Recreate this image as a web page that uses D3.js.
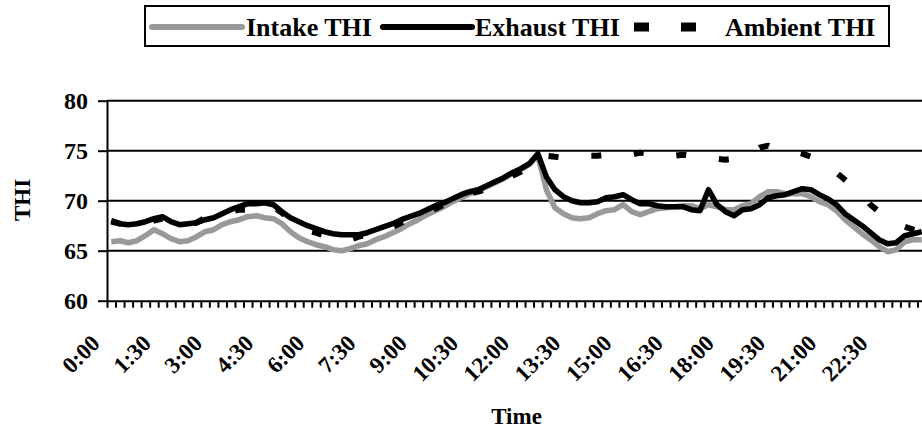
<!DOCTYPE html>
<html>
<head>
<meta charset="utf-8">
<script src="https://cdn.jsdelivr.net/npm/d3@7"></script>
<style>
  body { margin: 0; background: #fff; }
  text { font-family: "Liberation Serif", "Times New Roman", serif; font-weight: bold; fill: #000; }
</style>
</head>
<body>
<div id="chart"></div>
<script>
// datos: cada 15 minutos, de 0:00 a 23:45
const times = d3.range(96).map(i => `${Math.floor(i / 4)}:${String((i % 4) * 15).padStart(2, "0")}`)
const tickLabels = ["0:00", "1:30", "3:00", "4:30", "6:00", "7:30", "9:00", "10:30", "12:00",
                    "13:30", "15:00", "16:30", "18:00", "19:30", "21:00", "22:30"]
const yTicks = [60, 65, 70, 75, 80]

const intake = [65.9, 66.0, 65.8, 66.0, 66.5, 67.1, 66.7, 66.2, 65.9, 66.0, 66.4, 66.9,
                67.1, 67.6, 67.9, 68.1, 68.4, 68.5, 68.3, 68.2, 67.7, 66.9, 66.3, 65.9,
                65.6, 65.4, 65.1, 65.0, 65.2, 65.5, 65.7, 66.1, 66.4, 66.8, 67.2, 67.7,
                68.1, 68.6, 69.0, 69.4, 69.9, 70.3, 70.7, 71.0, 71.4, 71.8, 72.2, 72.7,
                73.1, 73.6, 74.5, 71.1, 69.3, 68.7, 68.3, 68.2, 68.3, 68.7, 69.0, 69.1,
                69.6, 68.9, 68.6, 68.9, 69.2, 69.3, 69.4, 69.5, 69.5, 69.2, 69.6, 69.4,
                69.1, 69.1, 69.5, 69.7, 70.4, 70.9, 70.9, 70.7, 70.7, 70.7, 70.4, 69.9,
                69.6, 69.0, 68.1, 67.4, 66.7, 66.1, 65.4, 64.9, 65.1, 65.9, 66.1, 66.1]

const exhaust = [68.0, 67.7, 67.6, 67.7, 67.9, 68.2, 68.4, 67.9, 67.6, 67.7, 67.8, 68.1,
                 68.3, 68.7, 69.1, 69.4, 69.7, 69.7, 69.8, 69.6, 68.9, 68.3, 67.9, 67.5,
                 67.2, 66.9, 66.7, 66.6, 66.6, 66.6, 66.8, 67.1, 67.4, 67.7, 68.1, 68.4,
                 68.7, 69.1, 69.5, 69.8, 70.2, 70.6, 70.9, 71.1, 71.5, 71.9, 72.3, 72.8,
                 73.2, 73.7, 74.7, 72.4, 71.1, 70.4, 70.0, 69.8, 69.8, 69.9, 70.3, 70.4,
                 70.6, 70.1, 69.7, 69.7, 69.5, 69.4, 69.4, 69.4, 69.1, 69.0, 71.1, 69.6,
                 68.9, 68.5, 69.1, 69.2, 69.6, 70.3, 70.5, 70.6, 70.9, 71.2, 71.1, 70.6,
                 70.2, 69.6, 68.7, 68.1, 67.5, 66.8, 66.1, 65.7, 65.8, 66.5, 66.7, 66.9]

const ambient = [67.9, 67.7, 67.5, 67.6, 67.8, 68.0, 68.2, 67.8, 67.5, 67.6, 67.8, 68.3,
                 68.4, 68.6, 68.9, 69.1, 69.1, 69.2, 69.5, 69.4, 68.8, 68.0, 67.3, 67.0,
                 66.8, 66.5, 66.2, 65.9, 66.1, 66.4, 66.6, 66.9, 67.0, 67.4, 67.8, 68.2,
                 68.5, 68.8, 69.2, 69.6, 70.0, 70.4, 70.7, 70.9, 71.2, 71.6, 72.1, 72.5,
                 72.9, 73.5, 74.4, 74.5, 74.4, 74.3, 74.3, 74.4, 74.5, 74.5, 74.6, 74.5,
                 74.4, 74.6, 74.8, 74.7, 74.5, 74.4, 74.5, 74.6, 74.5, 74.3, 74.3, 74.2,
                 74.1, 74.2, 74.4, 74.8, 75.3, 75.5, 75.1, 74.9, 74.9, 74.7, 74.4, 74.0,
                 73.4, 72.8, 72.1, 71.4, 70.7, 69.6, 68.9, 68.3, 67.8, 67.4, 67.1, 66.9]

const series = [
    { name: "Intake THI", values: intake, color: "#999999", dash: null },
    { name: "Exhaust THI", values: exhaust, color: "#000000", dash: null },
    { name: "Ambient THI", values: ambient, color: "#000000", dash: "10,33" }
]

// constantes y SVG
const width = 922
const height = 431
const margin = { top: 100.7, left: 107, bottom: 130.3 }
const plotWidth = 819   // se corta por la derecha, como en el original

const svg = d3.select("#chart").append("svg").attr("width", width).attr("height", height)

// escalas
const x = d3.scaleBand().domain(times).range([margin.left, margin.left + plotWidth])
const xIdx = d3.scaleLinear().domain([0, times.length]).range([margin.left, margin.left + plotWidth])
const y = d3.scaleLinear().domain([60, 80]).range([height - margin.bottom, margin.top])

// rejilla
svg.append("g").selectAll("line").data(yTicks.slice(1)).enter().append("line")
    .attr("x1", margin.left).attr("x2", margin.left + plotWidth)
    .attr("y1", d => y(d)).attr("y2", d => y(d))
    .attr("stroke", "#000").attr("stroke-width", 2)

// ejes
const yAxisGroup = svg.append("g").attr("transform", `translate(${margin.left},0)`)
    .call(d3.axisLeft(y).tickValues(yTicks).tickSize(9).tickSizeOuter(0).tickPadding(10))
yAxisGroup.selectAll("line, path").attr("stroke", "#000").attr("stroke-width", 2)
yAxisGroup.selectAll("text").style("font-size", "24px").attr("dy", "0.34em")

const xAxisGroup = svg.append("g").attr("transform", `translate(0,${y(60)})`)
    .call(d3.axisBottom(xIdx).tickValues(d3.range(0, times.length + 1)).tickSize(7).tickSizeOuter(0).tickFormat(""))
xAxisGroup.selectAll("line, path").attr("stroke", "#000").attr("stroke-width", 2)

const xLabelGroup = svg.append("g").attr("transform", `translate(0,${y(60)})`)
    .call(d3.axisBottom(x).tickValues(tickLabels).tickSize(0))
xLabelGroup.select(".domain").remove()
xLabelGroup.selectAll("text")
    .style("font-size", "23px")
    .attr("text-anchor", "end")
    .attr("x", 0).attr("y", 0).attr("dy", 0)
    .attr("transform", "translate(-10,44) rotate(-45)")

// titulos de ejes
svg.append("text").attr("x", margin.left + plotWidth / 2).attr("y", 424)
    .attr("text-anchor", "middle").style("font-size", "23px").text("Time")
svg.append("text").attr("transform", "translate(30,200) rotate(-90)")
    .attr("text-anchor", "middle").style("font-size", "23px").text("THI")

// lineas
const line = d3.line().x((d, i) => x(times[i]) + x.bandwidth() / 2).y(d => y(d))
svg.append("g").selectAll("path").data(series).enter().append("path")
    .attr("d", d => line(d.values))
    .attr("fill", "none")
    .attr("stroke", d => d.color)
    .attr("stroke-width", d => d.dash ? 6 : 5.5)
    .attr("stroke-linejoin", "round")
    .attr("stroke-dasharray", d => d.dash)

// leyenda
const legend = svg.append("g")
legend.append("rect").attr("x", 145).attr("y", 6).attr("width", 744).attr("height", 40)
    .attr("fill", "#fff").attr("stroke", "#000").attr("stroke-width", 2)
const legendItems = [
    { x1: 152, x2: 242, tx: 246 },
    { x1: 383, x2: 472, tx: 475 },
    { x1: 634, x2: 697, tx: 725 }
]
legend.selectAll(".key").data(series).enter().append("line")
    .attr("x1", (d, i) => legendItems[i].x1).attr("x2", (d, i) => legendItems[i].x2)
    .attr("y1", 27).attr("y2", 27)
    .attr("stroke", d => d.color).attr("stroke-width", d => d.dash ? 9 : 6)
    .attr("stroke-linecap", d => d.dash ? "butt" : "round")
    .attr("stroke-dasharray", d => d.dash ? "15,32" : null)
legend.selectAll(".lab").data(series).enter().append("text")
    .attr("x", (d, i) => legendItems[i].tx).attr("y", 36)
    .style("font-size", "26px").text(d => d.name)
</script>
</body>
</html>
